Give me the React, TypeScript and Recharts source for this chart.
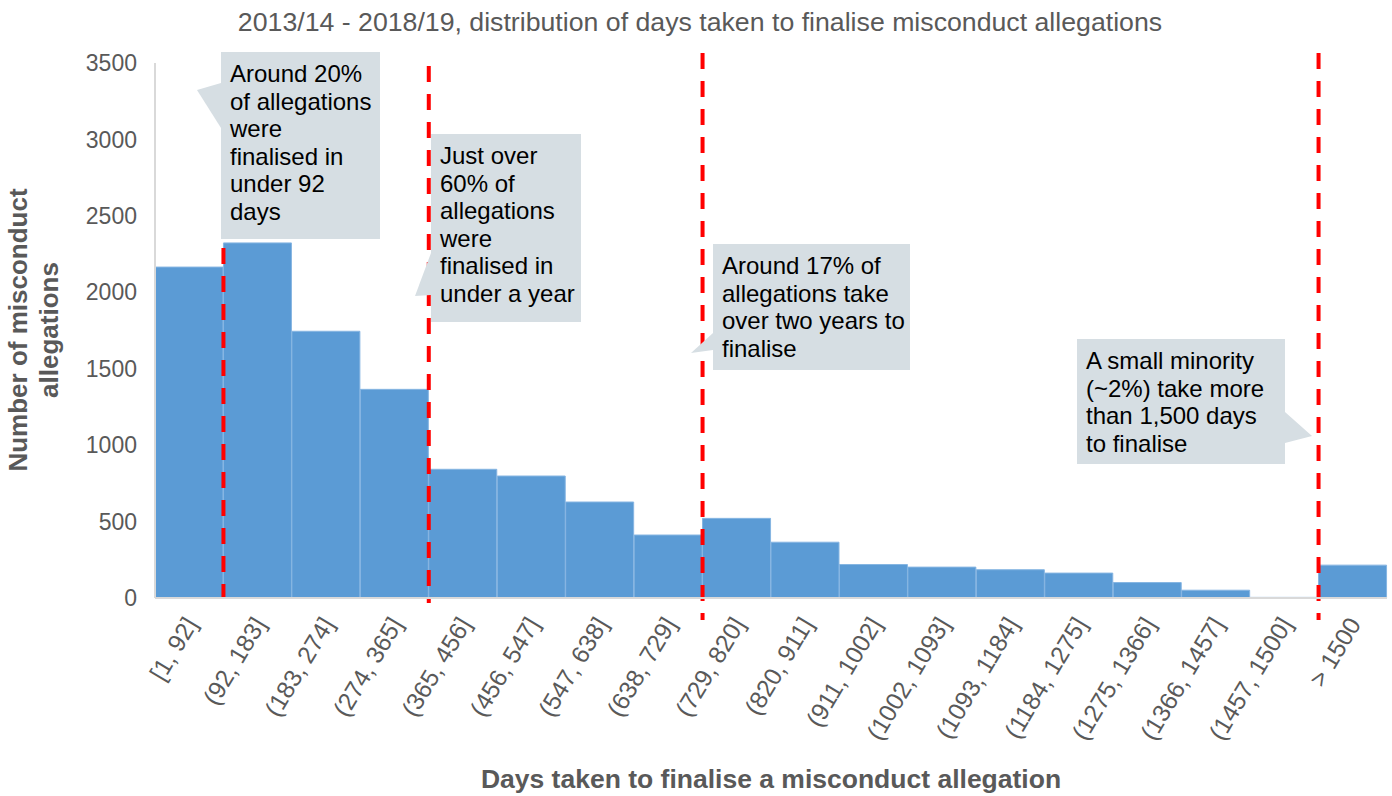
import React from "react";
import { Bar, BarChart, ReferenceLine, XAxis, YAxis } from "recharts";

const categories = [
  "[1, 92]",
  "(92, 183]",
  "(183, 274]",
  "(274, 365]",
  "(365, 456]",
  "(456, 547]",
  "(547, 638]",
  "(638, 729]",
  "(729, 820]",
  "(820, 911]",
  "(911, 1002]",
  "(1002, 1093]",
  "(1093, 1184]",
  "(1184, 1275]",
  "(1275, 1366]",
  "(1366, 1457]",
  "(1457, 1500]",
  "> 1500",
];

const allegations = [
  2165, 2323, 1745, 1365, 842, 798, 628, 412, 521, 365, 219, 202, 185, 163,
  101, 51, 4, 215,
];

const yTicks = [0, 500, 1000, 1500, 2000, 2500, 3000, 3500];

// cut-off lines sit on the right edge of these bins
const cutoffs = [
  { bin: "[1, 92]", up: 11, down: 0 },
  { bin: "(274, 365]", up: -3, down: 5 },
  { bin: "(638, 729]", up: 10, down: 22 },
  { bin: "(1457, 1500]", up: 10, down: 22 },
];

const notes = [
  {
    lines: ["Around 20%", "of allegations", "were", "finalised in", "under 92", "days"],
    box: { left: 221, top: 52, width: 159, height: 187 },
    tip: "221,83 197,90 221,128",
  },
  {
    lines: ["Just over", "60% of", "allegations", "were", "finalised in", "under a year"],
    box: { left: 431, top: 134, width: 150, height: 188 },
    tip: "431,253 415,296 431,295",
  },
  {
    lines: ["Around 17% of", "allegations take", "over two years to", "finalise"],
    box: { left: 713, top: 244, width: 197, height: 126 },
    tip: "713,333 691,353 713,350",
  },
  {
    lines: ["A small minority", "(~2%) take more", "than 1,500 days", "to finalise"],
    box: { left: 1077, top: 339, width: 208, height: 125 },
    tip: "1285,412 1312,436 1285,443",
  },
];

const data = categories.map((c, i) => ({ bin: c, count: allegations[i] }));

const FONT = "'Liberation Sans', Arial, sans-serif";
const GREY = "#595959";

const BinTick = ({ x, y, payload }: any) => (
  <text
    transform={`translate(${x + 9},${y + 18}) rotate(-59)`}
    textAnchor="end"
    fontSize={24.5}
    fill={GREY}
    fontFamily={FONT}
  >
    {payload.value}
  </text>
);

const cutLine = (up: number, down: number) => (p: any) => {
  const top = Math.min(p.y1, p.y2) - up;
  const bottom = Math.max(p.y1, p.y2) + down;
  return (
    <line
      x1={p.x1}
      x2={p.x2}
      y1={top}
      y2={bottom}
      stroke="#ff0000"
      strokeWidth={4}
      strokeDasharray="16 12"
    />
  );
};

export default function App() {
  return (
    <div
      style={{
        position: "absolute",
        left: 0,
        top: 0,
        width: 1392,
        height: 796,
        fontFamily: FONT,
        background: "#fff",
      }}
    >
      <BarChart
        width={1392}
        height={796}
        data={data}
        margin={{ top: 63, right: 5, left: 0, bottom: 0 }}
        barCategoryGap={0}
      >
        <XAxis
          dataKey="bin"
          height={198}
          interval={0}
          tickLine={false}
          axisLine={{ stroke: "#d9d9d9", strokeWidth: 2 }}
          tick={<BinTick />}
        />
        <YAxis
          width={155}
          domain={[0, 3500]}
          ticks={yTicks}
          tickLine={false}
          tickMargin={12}
          axisLine={{ stroke: "#d9d9d9", strokeWidth: 2 }}
          tick={{ fontSize: 23, fill: GREY, fontFamily: FONT }}
        />
        <Bar
          dataKey="count"
          fill="#5b9bd5"
          stroke="#86b5e2"
          strokeWidth={1}
          isAnimationActive={false}
        />
        {cutoffs.map((c) => (
          <ReferenceLine
            key={c.bin}
            x={c.bin}
            position="end"
            shape={cutLine(c.up, c.down)}
          />
        ))}
      </BarChart>

      <div
        style={{
          position: "absolute",
          left: 0,
          top: 7,
          width: 1400,
          textAlign: "center",
          fontSize: 26.7,
          color: GREY,
        }}
      >
        2013/14 - 2018/19, distribution of days taken to finalise misconduct
        allegations
      </div>

      <div
        style={{
          position: "absolute",
          left: 35 - 200,
          top: 330 - 32,
          width: 400,
          height: 64,
          transform: "rotate(-90deg)",
          textAlign: "center",
          fontSize: 26,
          fontWeight: "bold",
          lineHeight: "31px",
          color: GREY,
        }}
      >
        Number of misconduct
        <br />
        allegations
      </div>

      <div
        style={{
          position: "absolute",
          left: 471,
          top: 764,
          width: 600,
          textAlign: "center",
          fontSize: 26.5,
          fontWeight: "bold",
          color: GREY,
        }}
      >
        Days taken to finalise a misconduct allegation
      </div>

      <svg
        width={1392}
        height={796}
        style={{ position: "absolute", left: 0, top: 0, pointerEvents: "none" }}
      >
        {notes.map((n, i) => (
          <polygon key={i} points={n.tip} fill="#d6dee3" />
        ))}
      </svg>

      {notes.map((n, i) => (
        <div
          key={i}
          style={{
            position: "absolute",
            ...n.box,
            boxSizing: "border-box",
            background: "#d6dee3",
            padding: "8px 9px",
            fontSize: 24,
            lineHeight: "27.5px",
            color: "#000",
            whiteSpace: "nowrap",
          }}
        >
          {n.lines.map((l, j) => (
            <div key={j}>{l}</div>
          ))}
        </div>
      ))}
    </div>
  );
}
